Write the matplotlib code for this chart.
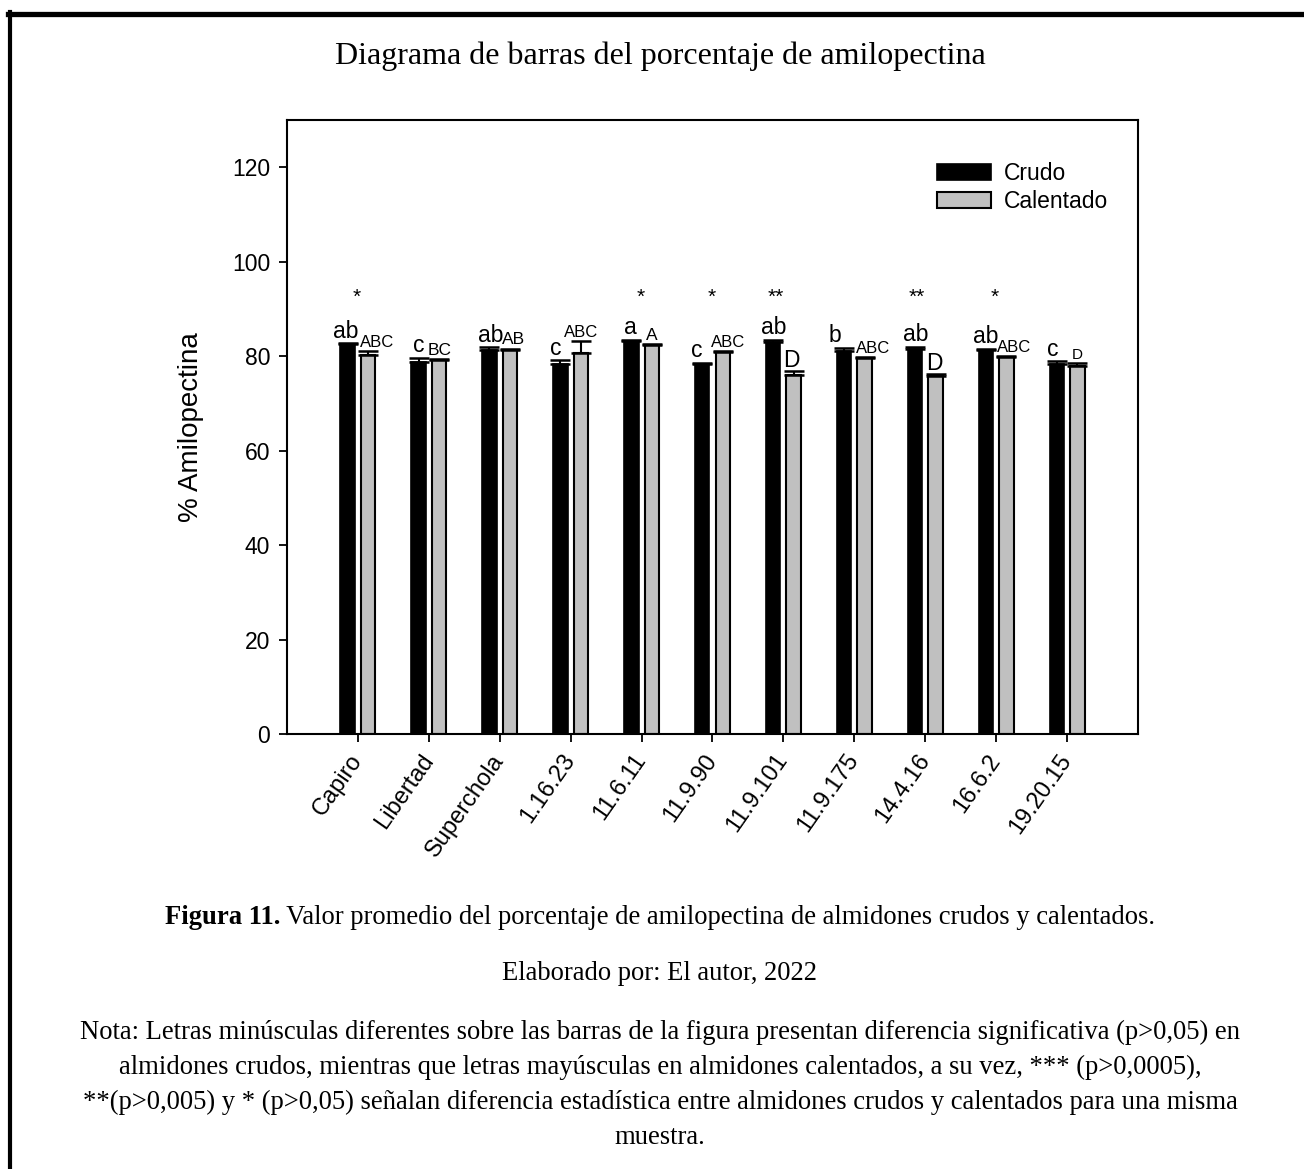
import matplotlib
matplotlib.use("Agg")
import matplotlib.pyplot as plt
from matplotlib.lines import Line2D
from matplotlib.transforms import ScaledTranslation
import numpy as np

# ---------------- data ----------------
samples = ["Capiro", "Libertad", "Superchola", "1.16.23", "11.6.11", "11.9.90",
           "11.9.101", "11.9.175", "14.4.16", "16.6.2", "19.20.15"]
crudo = [82.5, 78.7, 81.2, 78.4, 83.3, 78.4, 82.9, 81.0, 81.6, 81.3, 78.4]
crudo_err = [0.2, 0.9, 0.7, 0.7, 0.2, 0.2, 0.5, 0.7, 0.4, 0.2, 0.5]
calentado = [80.2, 79.1, 81.4, 80.7, 82.4, 80.8, 76.0, 79.6, 75.9, 79.8, 78.0]
calentado_err = [0.8, 0.2, 0.2, 2.5, 0.2, 0.2, 0.8, 0.2, 0.3, 0.2, 0.6]
crudo_letters = ["ab", "c", "ab", "c", "a", "c", "ab", "b", "ab", "ab", "c"]
cal_letters = ["ABC", "BC", "AB", "ABC", "A", "ABC", "D", "ABC", "D", "ABC", "D"]
stars = ["*", "", "", "", "*", "*", "**", "", "**", "*", ""]
yticks = [0, 20, 40, 60, 80, 100, 120]

# ---------------- layout ----------------
W, H = 1304, 1169
fig = plt.figure(figsize=(W / 100, H / 100), dpi=100)
SANS = "Liberation Sans"
SERIF = "Liberation Serif"
SERIF_SIZE = 19.2

ax = fig.add_axes([287 / W, 1 - 734 / H, (1138 - 287) / W, (734 - 120) / H])
x = np.arange(len(samples))
bw = 0.205
off = 0.145
ax.bar(x - off, crudo, bw, color="black", edgecolor="black", linewidth=1.2,
       label="Crudo", zorder=2)
ax.bar(x + off, calentado, bw, color="#c0c0c0", edgecolor="black", linewidth=1.5,
       label="Calentado", zorder=2)
ax.errorbar(x - off, crudo, yerr=[np.zeros(len(x)), crudo_err], fmt="none",
            ecolor="black", elinewidth=1.5, capsize=7, capthick=1.8, zorder=3)
ax.errorbar(x + off, calentado, yerr=[np.zeros(len(x)), calentado_err], fmt="none",
            ecolor="black", elinewidth=1.5, capsize=7, capthick=1.8, zorder=3)

ax.set_xlim(-1, len(samples))
ax.set_ylim(0, 130)
ax.set_yticks(yticks)
ax.set_xticks(x)
ax.set_xticklabels(samples, rotation=55, ha="right", va="center",
                   rotation_mode="anchor", fontsize=17, family=SANS)
shift = ScaledTranslation(7 / 100, 0, fig.dpi_scale_trans)
for lbl in ax.get_xticklabels():
    lbl.set_transform(lbl.get_transform() + shift)
for lbl in ax.get_yticklabels():
    lbl.set_fontsize(16.5)
    lbl.set_family(SANS)
ax.tick_params(axis="both", direction="out", length=6, width=1.3, pad=6)
ax.tick_params(axis="x", pad=10)
for s in ax.spines.values():
    s.set_linewidth(1.5)
ax.set_ylabel("% Amilopectina", fontsize=20, family=SANS, labelpad=20)

# annotation letters
px = 1 / 70.9  # one pixel in x data units
crudo_dx = [-2, 0, 1, -5, -1, -5, 1, -9, 1, 0, -4]
cal_dx = [9, 1, 3, 0, 0, 5, -2, 8, -1, 8, 0]
cal_size = [12, 12.5, 12.5, 12, 12.5, 12, 16.5, 12, 16.5, 12, 11]
for i in range(len(samples)):
    ax.text(x[i] - off + crudo_dx[i] * px, crudo[i] + crudo_err[i] + 1.2,
            crudo_letters[i], ha="center", va="baseline", fontsize=16.5,
            family=SANS, zorder=4)
    ax.text(x[i] + off + cal_dx[i] * px, calentado[i] + calentado_err[i] + 0.9,
            cal_letters[i], ha="center", va="baseline", fontsize=cal_size[i],
            family=SANS, zorder=4)
    if stars[i]:
        dx = -8 * px if len(stars[i]) == 2 else -1 * px
        ax.text(x[i] + dx, 92.5, stars[i], ha="center", va="center",
                fontsize=15, family=SANS)

leg = ax.legend(loc="upper left", bbox_to_anchor=((937 - 287) / 851, (734 - 162) / 614),
                frameon=False, handlelength=2.36, handleheight=0.75,
                handletextpad=0.55, labelspacing=0.22, borderpad=0, borderaxespad=0,
                prop={"family": SANS, "size": 16.5})

# ---------------- figure texts ----------------
def fx(px_):
    return px_ / W

def fy(py_):
    return 1 - py_ / H

fig.text(fx(660), fy(56), "Diagrama de barras del porcentaje de amilopectina",
         ha="center", va="center", fontsize=23, family=SERIF)

# caption with bold prefix
cap_bold = "Figura 11."
cap_rest = " Valor promedio del porcentaje de amilopectina de almidones crudos y calentados."
t1 = fig.text(0, fy(918), cap_bold, ha="left", va="center", fontsize=SERIF_SIZE,
              family=SERIF, weight="bold")
t2 = fig.text(0, fy(918), cap_rest, ha="left", va="center", fontsize=SERIF_SIZE,
              family=SERIF)
fig.canvas.draw()
r = fig.canvas.get_renderer()
w1 = t1.get_window_extent(r).width
w2 = t2.get_window_extent(r).width
start = 660 - (w1 + w2) / 2
t1.set_x(fx(start))
t2.set_x(fx(start + w1))

fig.text(fx(660), fy(974), "Elaborado por: El autor, 2022", ha="center", va="center",
         fontsize=SERIF_SIZE, family=SERIF)
note_lines = [
    "Nota: Letras minúsculas diferentes sobre las barras de la figura presentan diferencia significativa (p>0,05) en",
    "almidones crudos, mientras que letras mayúsculas en almidones calentados, a su vez, *** (p>0,0005),",
    "**(p>0,005) y * (p>0,05) señalan diferencia estadística entre almidones crudos y calentados para una misma",
    "muestra.",
]
for k, line in enumerate(note_lines):
    fig.text(fx(660), fy(1032 + 35.3 * k), line, ha="center", va="center",
             fontsize=SERIF_SIZE, family=SERIF)

# page border (top and left)
fig.add_artist(Line2D([fx(8), fx(W)], [fy(13.5), fy(13.5)], color="black", linewidth=3.8))
fig.add_artist(Line2D([fx(10), fx(10)], [fy(11.5), fy(H)], color="black", linewidth=3.0))

fig.savefig("out.png", dpi=100)
